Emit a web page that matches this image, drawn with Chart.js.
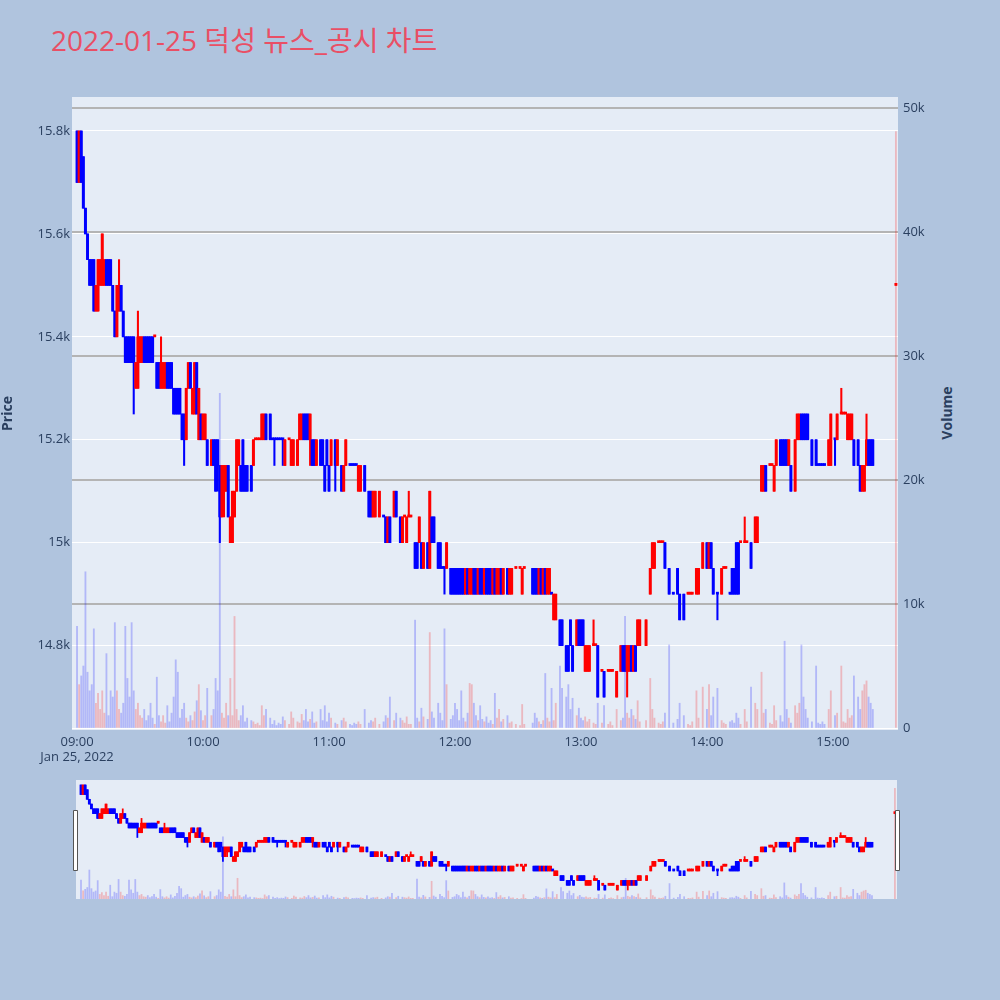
<!DOCTYPE html>
<html>
<head>
<meta charset="utf-8">
<script src="https://cdn.jsdelivr.net/npm/chart.js@4.4.1/dist/chart.umd.min.js"></script>
<style>
html,body{margin:0;padding:0;background:#b0c4de;width:1000px;height:1000px;overflow:hidden;}
#title{position:absolute;left:51px;top:26px;font-size:28px;line-height:28px;color:#e94f65;font-family:"Open Sans","Noto Sans CJK KR",sans-serif;white-space:nowrap;}
#voltitle{position:absolute;left:946px;top:413px;transform:translate(-50%,-50%) rotate(-90deg);font-weight:bold;font-size:14px;color:#2a3f5f;font-family:"Open Sans",sans-serif;white-space:nowrap;}
canvas{position:absolute;}
#main{left:0;top:0;}
#slider{left:0;top:775px;}
</style>
</head>
<body>
<div id="title">2022-01-25 덕성 뉴스_공시 차트</div>
<div id="voltitle">Volume</div>
<canvas id="main" width="1000" height="775"></canvas>
<canvas id="slider" width="1000" height="130"></canvas>
<script>
// minutes after 09:00
const minutes = [
 0,1,2,3,4,5,6,7,8,9, 10,11,12,13,14,15,16,17,18,19, 20,21,22,23,24,25,26,27,28,29,
 30,31,32,33,34,35,36,37,38,39, 40,41,42,43,44,45,46,47,48,49, 50,51,52,53,54,55,56,57,58,59,
 60,61,62,
 64,65,66,67,68,69,70,71,72,73, 74,75,76,77,78,79,80,81,83,84, 85,86,87,88,89,90,92,93,94,95,
 96,97,98,99,101,102,103,105,106,107, 108,109,110,111,112,113,114,116,117,118, 119,120,
 121,123,124,126,127,128,130,131,132,133, 134,135,137,139,140,141,142,144,146,147,
 148,149,151,152,154,155,156,157,158,159, 161,162,163,164,165,167,168,169,170,172,
 173,174,175,176,178,179,180,181,182,183, 184,185,186,187,188,
 189,190,191,192,193,194,195,196,197,198, 199,200,201,202,203,205,206,207,209,211,
 212,213,217,218,219,220,221,222,223,224, 225,226,227,228,230,231,233,234,235,236,
 238,239,240,241,242,243,244,246,247,248, 250,251,253,254,255,257,259,260,261,262,
 263,264,265,266,267,268,271,273,274,275, 277,278,279,280,282,284,286,287,289,291,
 292,293,295,296,298,300,301,302,303,305, 307,308,309,311,312,313,314,315,316,318,
 319,321,323,324,326,327,328,330,331,332, 333,335,336,337,338,339,340,342,343,344,
 345,346,347,348,350,352,353,354,355,356, 358,359,361,362,364,365,366,367,368,369,
 370,372,373,374,375,376,377,378,379,390
];
const opens = [
 15800,15700,15800,15750,15650,15600,15550,15550,15550,15450, 15450,15500,15500,15500,15550,15550,15550,15500,15450,15400,
 15450,15500,15450,15400,15400,15400,15400,15400,15300,15300, 15350,15350,15400,15400,15400,15400,15400,15400,15350,15350,
 15300,15300,15300,15350,15350,15350,15300,15300,15300,15300, 15250,15250,15200,15300,15350,15250,15250,15350,15200,15250,
 15200,15200,15200,
 15150,15200,15200,15200,15150,15050,15100,15100,15150,15000, 15000,15050,15100,15150,15150,15200,15150,15150,15150,15150,
 15200,15200,15200,15200,15200,15250,15250,15200,15200,15200, 15200,15200,15200,15150,15200,15150,15150,15150,15200,15200,
 15250,15250,15250,15200,15200,15200,15150,15200,15200,15150, 15200,15150,
 15150,15200,15150,15150,15100,15150,15150,15150,15150,15150, 15100,15100,15150,15100,15100,15050,15050,15050,15050,15050,
 15000,15050,15050,15100,15050,15000,15050,15000,15050,15050, 15000,15000,15000,15000,14950,15000,14950,15050,15050,15000,
 15000,14950,14950,14950,14950,14950,14950,14950,14950,14950, 14950,14900,14950,14900,14900,
 14950,14950,14900,14950,14950,14900,14950,14950,14950,14900, 14950,14900,14900,14950,14900,14950,14900,14900,14950,14950,
 14900,14950,14950,14950,14950,14900,14950,14900,14950,14900, 14900,14900,14850,14850,14850,14850,14800,14800,14850,14800,
 14800,14850,14850,14850,14750,14750,14750,14800,14800,14800, 14750,14750,14750,14750,14750,14700,14750,14800,14800,14750,
 14750,14800,14750,14800,14800,14800,14800,14900,14950,14950, 15000,15000,15000,15000,14950,14900,14950,14900,14900,14900,
 14900,14900,14900,14900,14950,15000,14950,15000,14950,14900, 14900,14950,14950,14900,14950,14950,15000,15000,15000,15000,
 15000,15000,15000,15000,15100,15100,15150,15150,15150,15100, 15150,15200,15200,15200,15200,15150,15150,15100,15200,15200,
 15250,15250,15250,15250,15200,15200,15150,15150,15150,15150, 15150,15150,15200,15200,15250,15250,15250,15200,15200,15200,
 15200,15200,15150,15100,15100,15150,15200,15200,15200,15500
];
const highs = [
 15800,15800,15800,15750,15650,15600,15550,15550,15550,15500, 15550,15550,15600,15550,15550,15550,15550,15500,15450,15500,
 15550,15500,15450,15400,15400,15400,15400,15400,15350,15450, 15400,15400,15400,15400,15400,15400,15400,15400,15350,15350,
 15400,15350,15350,15350,15350,15350,15300,15300,15300,15300, 15250,15250,15300,15350,15350,15300,15350,15350,15300,15250,
 15250,15250,15200,
 15200,15200,15200,15200,15150,15150,15150,15150,15150,15050, 15100,15100,15200,15200,15150,15200,15150,15150,15150,15200,
 15200,15200,15200,15250,15250,15250,15250,15200,15200,15200, 15200,15200,15200,15200,15200,15200,15200,15200,15250,15250,
 15250,15250,15250,15250,15200,15200,15200,15200,15200,15150, 15200,15150,
 15200,15200,15200,15150,15150,15200,15150,15150,15150,15150, 15150,15150,15150,15100,15100,15100,15100,15100,15050,15050,
 15050,15050,15100,15100,15050,15050,15050,15050,15100,15050, 15000,15000,15050,15000,15000,15000,15100,15050,15050,15000,
 15000,14950,14950,15000,14950,14950,14950,14950,14950,14950, 14950,14950,14950,14950,14950,
 14950,14950,14950,14950,14950,14950,14950,14950,14950,14950, 14950,14950,14950,14950,14950,14950,14950,14950,14950,14950,
 14950,14950,14950,14950,14950,14950,14950,14950,14950,14950, 14950,14900,14900,14900,14850,14850,14800,14800,14850,14800,
 14850,14850,14850,14850,14800,14800,14800,14850,14800,14800, 14750,14750,14750,14750,14750,14750,14800,14800,14800,14800,
 14800,14800,14800,14800,14850,14850,14850,14950,15000,15000, 15000,15000,15000,15000,14950,14900,14950,14900,14900,14900,
 14900,14900,14950,14950,15000,15000,15000,15000,14950,14900, 14950,14950,14950,14900,14950,14950,15000,15000,15000,15050,
 15000,15000,15050,15050,15150,15150,15150,15150,15150,15150, 15200,15200,15200,15200,15200,15200,15150,15200,15250,15250,
 15250,15250,15250,15250,15200,15200,15150,15150,15150,15150, 15200,15250,15200,15250,15300,15250,15250,15250,15250,15250,
 15200,15200,15150,15150,15150,15250,15200,15200,15200,15500
];
const lows = [
 15700,15700,15700,15650,15600,15550,15500,15500,15450,15450, 15450,15500,15500,15500,15500,15500,15500,15450,15400,15400,
 15450,15450,15400,15350,15350,15350,15350,15250,15300,15300, 15350,15350,15350,15350,15350,15350,15350,15400,15300,15300,
 15300,15300,15300,15300,15300,15300,15250,15250,15250,15250, 15200,15150,15200,15300,15300,15250,15250,15250,15200,15200,
 15200,15200,15150,
 15150,15150,15100,15100,15000,15050,15050,15100,15050,15000, 15000,15050,15100,15150,15100,15100,15100,15100,15100,15150,
 15200,15200,15200,15200,15200,15200,15200,15200,15150,15200, 15200,15200,15150,15150,15200,15150,15150,15150,15200,15200,
 15200,15200,15200,15150,15150,15150,15150,15150,15150,15100, 15150,15100,
 15150,15100,15150,15100,15100,15150,15150,15150,15150,15150, 15100,15100,15100,15050,15050,15050,15050,15050,15050,15000,
 15000,15000,15050,15050,15000,15000,15050,15000,15050,15050, 14950,14950,15000,14950,14950,14950,14950,15000,15000,14950,
 14950,14950,14900,14950,14900,14900,14900,14900,14900,14900, 14900,14900,14900,14900,14900,
 14900,14900,14900,14900,14900,14900,14900,14900,14900,14900, 14900,14900,14900,14900,14900,14900,14900,14900,14950,14950,
 14900,14950,14900,14900,14900,14900,14900,14900,14900,14900, 14900,14900,14850,14850,14800,14800,14750,14750,14800,14750,
 14800,14800,14800,14800,14750,14750,14750,14800,14800,14700, 14750,14700,14750,14750,14750,14700,14750,14750,14750,14700,
 14750,14750,14750,14750,14800,14800,14800,14900,14950,14950, 15000,15000,15000,14950,14900,14900,14900,14850,14850,14900,
 14900,14900,14900,14900,14950,14950,14950,14950,14900,14850, 14900,14950,14950,14900,14900,14900,14900,14900,15000,15000,
 15000,14950,15000,15000,15100,15100,15100,15150,15150,15100, 15150,15150,15150,15150,15150,15150,15100,15100,15200,15200,
 15200,15200,15200,15200,15150,15150,15150,15150,15150,15150, 15150,15150,15150,15200,15250,15250,15250,15200,15200,15200,
 15150,15150,15100,15100,15100,15150,15150,15150,15150,15500
];
const closes = [
 15700,15800,15700,15650,15600,15550,15500,15500,15450,15500, 15550,15550,15600,15550,15500,15500,15500,15450,15400,15500,
 15500,15450,15400,15350,15350,15350,15350,15350,15350,15400, 15400,15400,15350,15350,15350,15350,15350,15400,15300,15300,
 15350,15350,15350,15300,15300,15300,15250,15250,15250,15250, 15200,15200,15300,15350,15300,15300,15350,15250,15300,15200,
 15250,15250,15150,
 15200,15150,15100,15150,15050,15150,15150,15150,15050,15050, 15100,15100,15200,15200,15100,15100,15100,15100,15100,15200,
 15200,15200,15200,15250,15250,15200,15200,15200,15200,15200, 15200,15200,15200,15200,15200,15200,15200,15200,15250,15250,
 15200,15200,15200,15250,15150,15150,15200,15150,15150,15100, 15150,15100,
 15200,15150,15200,15100,15150,15200,15150,15150,15150,15150, 15150,15150,15100,15050,15050,15100,15100,15100,15050,15000,
 15050,15000,15100,15050,15000,15050,15050,15050,15050,15050, 14950,14950,15050,14950,15000,14950,15100,15000,15000,14950,
 14950,14950,14950,15000,14900,14900,14900,14900,14900,14900, 14900,14950,14900,14950,14950,
 14900,14900,14950,14900,14900,14950,14900,14900,14900,14950, 14900,14950,14950,14900,14950,14900,14950,14950,14950,14950,
 14950,14950,14900,14900,14900,14950,14900,14950,14900,14950, 14950,14900,14900,14900,14800,14800,14750,14750,14800,14750,
 14850,14800,14800,14800,14800,14800,14800,14800,14800,14700, 14750,14700,14750,14750,14750,14750,14800,14750,14750,14800,
 14800,14750,14800,14750,14850,14850,14850,14950,15000,15000, 15000,15000,15000,14950,14900,14900,14900,14850,14850,14900,
 14900,14900,14950,14950,15000,14950,15000,14950,14900,14900, 14950,14950,14950,14900,14900,14900,14900,14900,15000,15000,
 15000,14950,15050,15050,15150,15150,15100,15150,15150,15150, 15200,15150,15150,15150,15150,15200,15100,15200,15250,15250,
 15200,15200,15200,15200,15150,15150,15150,15150,15150,15150, 15200,15250,15200,15250,15250,15250,15250,15250,15250,15250,
 15150,15150,15100,15150,15150,15200,15150,15150,15150,15500
];
const volumes = [
 8200,3500,4200,5000,12600,4500,3000,3500,8000,2000, 2800,1500,3000,1200,6000,1000,3000,2500,8500,3000,
 1500,1200,2000,8200,4000,2500,8500,3000,1500,2000, 1000,800,1500,600,1000,2000,800,300,4100,1000,
 500,1000,400,1800,500,1200,2500,5500,4500,800, 1500,2000,800,500,1000,600,1300,2200,3500,1400,
 600,1000,3200,
 1000,1500,4000,3000,27000,1200,800,2000,1000,4000, 1000,9000,1500,600,1000,1800,500,800,600,500,
 300,400,200,1800,1000,1500,800,300,600,200, 400,300,900,600,300,1300,800,500,400,1100,
 600,1500,500,700,1300,400,500,1500,600,1800, 500,1200,
 800,400,300,600,800,500,300,200,400,300, 500,300,1500,400,600,500,800,300,500,1000,
 800,2500,600,1200,800,600,400,900,300,300, 8700,800,500,1600,900,700,7700,1300,800,2000,
 1200,600,8000,3500,700,1000,2000,1500,600,3000, 800,500,1200,3600,3500,
 2000,1000,600,1800,700,500,900,400,600,300, 2800,800,1500,500,700,1000,400,500,300,200,
 1900,300,400,1200,800,500,300,600,4400,800, 500,3200,600,2000,5000,3200,2500,3500,1500,2400,
 1000,1600,800,600,900,500,700,400,300,2000, 400,1800,300,500,200,1500,600,800,9000,1200,
 800,1500,1000,700,2200,500,600,4000,1500,800, 400,300,500,1200,6700,400,700,2000,1000,300,
 200,500,3000,800,3300,1500,3500,1000,2500,3200, 600,400,300,500,600,400,1200,800,300,1500,
 500,3300,2000,1500,4500,1200,1500,400,300,1800, 600,1000,500,7000,1500,800,400,1800,1200,2000,
 6700,2500,1500,800,500,5000,400,300,500,300, 1500,3000,1000,1200,5000,500,400,1500,800,1000,
 4200,2500,1500,3000,3500,3800,2500,2000,1500,48100
];
const timeTicks = [0, 60, 120, 180, 240, 300, 360];
const timeTickLabels = ['09:00','10:00','11:00','12:00','13:00','14:00','15:00'];
const dateLabel = 'Jan 25, 2022';
const priceTicks = [14800, 15000, 15200, 15400, 15600, 15800];
const volumeTicks = [0, 10000, 20000, 30000, 40000, 50000];

// direction of each candle
const rising = [];
for (let i = 0; i < closes.length; i++) {
  let r;
  if (closes[i] > opens[i]) r = true;
  else if (closes[i] < opens[i]) r = false;
  else {
    const pc = i > 0 ? closes[i-1] : closes[i];
    r = closes[i] > pc ? true : (closes[i] < pc ? false : (i > 0 ? rising[i-1] : true));
  }
  rising.push(r);
}
const UP = '#ff0000', DOWN = '#0000ff';
const UPV = 'rgba(255,0,0,0.22)', DOWNV = 'rgba(0,0,255,0.22)';
const candleColors = rising.map(r => r ? UP : DOWN);
const volColors = rising.map(r => r ? UPV : DOWNV);

const bodyData = minutes.map((m, i) => ({x: m, y: [opens[i], closes[i]]}));
const wickData = minutes.map((m, i) => ({x: m, y: [lows[i], highs[i]]}));
const volData = minutes.map((m, i) => ({x: m, y: volumes[i]}));

Chart.defaults.font.family = '"Open Sans", "Noto Sans CJK KR", sans-serif';
Chart.defaults.color = '#2a3f5f';

const plotBg = {
  id: 'plotBg',
  beforeDraw(chart) {
    const {ctx, chartArea: a} = chart;
    ctx.save();
    ctx.fillStyle = '#e5ecf6';
    ctx.fillRect(a.left, a.top, a.right - a.left, a.bottom - a.top);
    ctx.restore();
  }
};

function datasets(bodyW, wickW, volW, yP, yV) {
  return [
    {type: 'bar', data: bodyData, yAxisID: yP, backgroundColor: candleColors, borderWidth: 0,
     barThickness: bodyW, minBarLength: 2, grouped: false, order: 1},
    {type: 'bar', data: wickData, yAxisID: yP, backgroundColor: candleColors, borderWidth: 0,
     barThickness: wickW, grouped: false, order: 2},
    {type: 'bar', data: volData, yAxisID: yV, backgroundColor: volColors, borderWidth: 0,
     barThickness: volW, grouped: false, order: 3}
  ];
}

new Chart(document.getElementById('main'), {
  type: 'bar',
  data: {datasets: datasets(2.3, 1.4, 1.2, 'y', 'yv')},
  plugins: [plotBg],
  options: {
    responsive: false, animation: false, devicePixelRatio: 1,
    layout: {padding: {top: 97, left: 0, right: 0, bottom: 0}},
    plugins: {legend: {display: false}, tooltip: {enabled: false}, title: {display: false}},
    scales: {
      x: {
        type: 'linear', min: -2.4, max: 391, offset: false,
        grid: {display: false, drawTicks: false}, border: {display: false},
        afterBuildTicks: s => { s.ticks = timeTicks.map(v => ({value: v})); },
        afterFit: s => { s.height = 45; },
        ticks: {
          autoSkip: false, maxRotation: 0, padding: 4, color: '#2a3f5f', font: {size: 13},
          callback: (v) => { const i = timeTicks.indexOf(v); return i === 0 ? [timeTickLabels[0], dateLabel] : timeTickLabels[i]; }
        }
      },
      y: {
        position: 'left', min: 14636, max: 15866,
        afterBuildTicks: s => { s.ticks = priceTicks.map(v => ({value: v})); },
        afterFit: s => { s.width = 72; },
        grid: {color: '#ffffff', lineWidth: 1, drawTicks: false}, border: {display: false},
        ticks: {padding: 2, color: '#2a3f5f', font: {size: 13}, callback: v => (v / 1000) + 'k'},
        title: {display: true, text: 'Price', color: '#2a3f5f', font: {size: 14, weight: 'bold'}, padding: 0}
      },
      yv: {
        position: 'right', min: -160, max: 50890,
        afterBuildTicks: s => { s.ticks = volumeTicks.map(v => ({value: v})); },
        afterFit: s => { s.width = 102; },
        grid: {color: c => c.tick && c.tick.value === 0 ? '#ffffff' : '#b4b4b4',
               lineWidth: c => c.tick && c.tick.value === 0 ? 1 : 2, drawTicks: false},
        border: {display: false},
        ticks: {padding: 5, color: '#2a3f5f', font: {size: 13}, callback: v => v === 0 ? '0' : (v / 1000) + 'k'}
      }
    }
  }
});

const handles = {
  id: 'handles',
  afterDraw(chart) {
    const {ctx, chartArea: a} = chart;
    ctx.save();
    [a.left - 0.5, a.right + 0.5].forEach(cx => {
      ctx.fillStyle = '#ffffff';
      ctx.strokeStyle = '#555555';
      ctx.lineWidth = 1;
      ctx.beginPath();
      ctx.rect(Math.round(cx - 2.5) + 0.5, 35.5, 4, 60);
      ctx.fill();
      ctx.stroke();
    });
    ctx.restore();
  }
};

new Chart(document.getElementById('slider'), {
  type: 'bar',
  data: {datasets: datasets(2.2, 1.1, 1.1, 'sp', 'sv')},
  plugins: [plotBg, handles],
  options: {
    responsive: false, animation: false, devicePixelRatio: 1,
    layout: {padding: {top: 5, left: 76, right: 103, bottom: 6}},
    plugins: {legend: {display: false}, tooltip: {enabled: false}, title: {display: false}},
    scales: {
      x: {type: 'linear', min: -2.4, max: 391, offset: false, display: false},
      sp: {position: 'left', min: 14606, max: 15852, display: false},
      sv: {position: 'right', min: 0, max: 51700, display: false}
    }
  }
});
</script>
</body>
</html>
